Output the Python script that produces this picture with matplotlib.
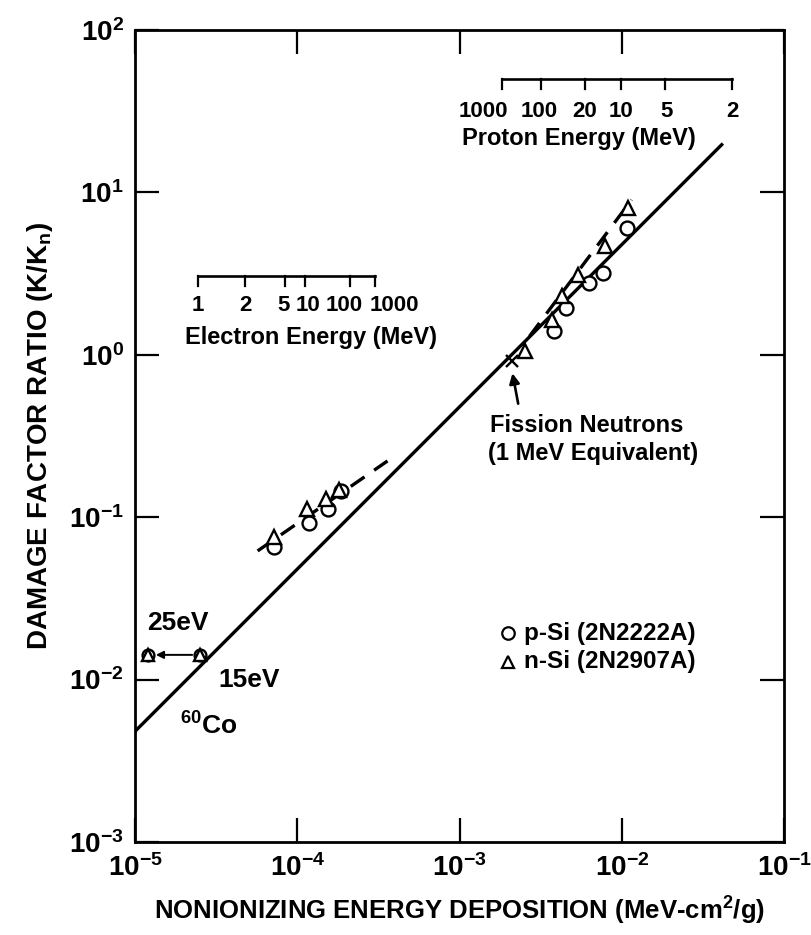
import matplotlib
matplotlib.use('Agg')
import matplotlib.pyplot as plt
from matplotlib.ticker import LogLocator, NullLocator, FuncFormatter
import math

plt.rcParams['font.family'] = ['Liberation Sans', 'DejaVu Sans']
plt.rcParams['font.weight'] = 'bold'
plt.rcParams['axes.labelweight'] = 'bold'
plt.rcParams['mathtext.fontset'] = 'custom'
plt.rcParams['mathtext.rm'] = 'Liberation Sans:bold'
plt.rcParams['mathtext.it'] = 'Liberation Sans:bold:italic'
plt.rcParams['mathtext.bf'] = 'Liberation Sans:bold'

# ---- data ----
fit_x = [1e-5, 4.2e-2]
fit_y = [4.8e-3, 20.0]
dash_e_x = [5.7e-5, 3.6e-4]
dash_e_y = [0.062, 0.222]
dash_p_x = [2.7e-3, 1.15e-2]
dash_p_y = [1.3, 9.0]

co_x = [1.2e-5, 2.5e-5]
co_y = [0.0142, 0.0142]

psi_e_x = [7.2e-5, 1.18e-4, 1.55e-4, 1.85e-4]
psi_e_y = [0.066, 0.092, 0.113, 0.145]
nsi_e_x = [7.2e-5, 1.15e-4, 1.50e-4, 1.82e-4]
nsi_e_y = [0.076, 0.112, 0.130, 0.148]

psi_p_x = [3.8e-3, 4.55e-3, 6.3e-3, 7.7e-3, 1.07e-2]
psi_p_y = [1.41, 1.95, 2.78, 3.2, 6.0]
nsi_p_x = [2.55e-3, 3.7e-3, 4.3e-3, 5.35e-3, 7.85e-3, 1.09e-2]
nsi_p_y = [1.06, 1.64, 2.3, 3.1, 4.7, 8.0]

fission_x = [2.1e-3]
fission_y = [0.92]

electron_energy = ['1', '2', '5', '10', '100', '1000']
electron_niel = [2.45e-5, 4.78e-5, 8.43e-5, 1.12e-4, 2.12e-4, 3.03e-4]
electron_label_shift = [0, 0, -1, 2, -4, 14]
proton_energy = ['1000', '100', '20', '10', '5', '2']
proton_niel = [1.84e-3, 3.16e-3, 5.9e-3, 9.9e-3, 1.84e-2, 4.8e-2]
proton_label_shift = [-14, -1, 0, 0, 1, 0]

legend_labels = ['p-Si (2N2222A)', 'n-Si (2N2907A)']

# ---- figure ----
W, H = 812, 935
fig = plt.figure(figsize=(W / 100, H / 100), dpi=100)
L, R, T, B = 135, 784, 30, 842
ax = fig.add_axes([L / W, 1 - B / H, (R - L) / W, (B - T) / H])
ax.set_xscale('log')
ax.set_yscale('log')
ax.set_xlim(1e-5, 1e-1)
ax.set_ylim(1e-3, 1e2)

lw = 2.4
ms = 10
mew = 1.7

ax.plot(fit_x, fit_y, color='k', lw=lw, solid_capstyle='butt')
ax.plot(dash_e_x, dash_e_y, color='k', lw=lw, dashes=(5, 3.5))
ax.plot(dash_p_x, dash_p_y, color='k', lw=lw, dashes=(5, 3.5))

ax.plot(psi_e_x, psi_e_y, 'o', ms=ms, mfc='white', mec='k', mew=mew, ls='none')
ax.plot(nsi_e_x, nsi_e_y, '^', ms=ms, mfc='white', mec='k', mew=mew, ls='none')
ax.plot(psi_p_x, psi_p_y, 'o', ms=ms, mfc='white', mec='k', mew=mew, ls='none')
ax.plot(nsi_p_x, nsi_p_y, '^', ms=ms, mfc='white', mec='k', mew=mew, ls='none')

# 60Co points with arrow
ax.plot(co_x, co_y, 'o', ms=ms * 0.85, mfc='white', mec='k', mew=mew, ls='none')
ax.plot(co_x, co_y, '^', ms=ms * 0.85, mfc='white', mec='k', mew=mew, ls='none')
ax.annotate('', xy=(co_x[0] * 1.12, co_y[0]), xytext=(co_x[1] * 0.9, co_y[1]),
            arrowprops=dict(arrowstyle='-|>', color='k', lw=1.4,
                            mutation_scale=11, shrinkA=0, shrinkB=0))

# fission neutron point
ax.plot(fission_x, fission_y, 'x', ms=9, mec='k', mew=1.7, ls='none')
ax.annotate('', xy=(2.12e-3, 0.77), xytext=(2.3e-3, 0.50),
            arrowprops=dict(arrowstyle='-|>', color='k', lw=1.9,
                            mutation_scale=15, shrinkA=0, shrinkB=0))

fs_tick = 20
fs_txt = 17
fs_scale = 16

# spines and ticks
for s in ax.spines.values():
    s.set_linewidth(2.0)
ax.xaxis.set_major_locator(LogLocator(base=10, numticks=10))
ax.yaxis.set_major_locator(LogLocator(base=10, numticks=10))
ax.xaxis.set_minor_locator(NullLocator())
ax.yaxis.set_minor_locator(NullLocator())
fmt = FuncFormatter(lambda v, p: r'$10^{%d}$' % int(round(math.log10(v))))
ax.xaxis.set_major_formatter(fmt)
ax.yaxis.set_major_formatter(fmt)
ax.tick_params(which='major', direction='in', length=17, width=1.6,
               top=True, right=True, labelsize=fs_tick)
ax.tick_params(axis='x', pad=9)
ax.tick_params(axis='y', pad=8)

ax.set_xlabel('NONIONIZING ENERGY DEPOSITION (MeV-cm$^2$/g)', fontsize=18.5,
              fontweight='bold', labelpad=9)
ax.set_ylabel(r'DAMAGE FACTOR RATIO (K/K$_{\mathrm{n}}$)', fontsize=20,
              fontweight='bold', labelpad=10)

# electron energy scale
xt = ax.get_xaxis_transform()
ey = 0.697
ax.plot([electron_niel[0], electron_niel[-1]], [ey, ey], color='k', lw=1.9, transform=xt)
for x, lab, sh in zip(electron_niel, electron_energy, electron_label_shift):
    ax.plot([x, x], [ey, ey - 0.012], color='k', lw=1.6, transform=xt)
    ax.annotate(lab, xy=(x, ey - 0.036), xycoords=xt, xytext=(sh, 0),
                textcoords='offset points', ha='center', va='center', fontsize=fs_scale)
ax.text(0.077, 0.621, 'Electron Energy (MeV)', transform=ax.transAxes,
        ha='left', va='center', fontsize=fs_txt)

# proton energy scale
py = 0.940
ax.plot([proton_niel[0], proton_niel[-1]], [py, py], color='k', lw=1.9, transform=xt)
for x, lab, sh in zip(proton_niel, proton_energy, proton_label_shift):
    ax.plot([x, x], [py, py - 0.013], color='k', lw=1.6, transform=xt)
    ax.annotate(lab, xy=(x, py - 0.040), xycoords=xt, xytext=(sh, 0),
                textcoords='offset points', ha='center', va='center', fontsize=fs_scale)
ax.text(0.504, 0.866, 'Proton Energy (MeV)', transform=ax.transAxes,
        ha='left', va='center', fontsize=fs_txt)

# annotations
ax.text(1.19e-5, 0.0223, '25eV', ha='left', va='center', fontsize=19)
ax.text(3.25e-5, 0.00995, '15eV', ha='left', va='center', fontsize=19)
ax.text(1.9e-5, 0.0052, '$^{60}$Co', ha='left', va='center', fontsize=19)
ax.text(1.55e-3, 0.365, 'Fission Neutrons', ha='left', va='center', fontsize=fs_txt)
ax.text(1.5e-3, 0.248, '(1 MeV Equivalent)', ha='left', va='center', fontsize=fs_txt)

# legend
leg_y = [0.257, 0.222]
leg_mx = 0.575
ax.plot([leg_mx], [leg_y[0]], 'o', ms=9, mfc='white', mec='k', mew=1.6, transform=ax.transAxes)
ax.plot([leg_mx], [leg_y[1]], '^', ms=9, mfc='white', mec='k', mew=1.6, transform=ax.transAxes)
for yy, lab in zip(leg_y, legend_labels):
    ax.text(leg_mx + 0.025, yy, lab, transform=ax.transAxes, ha='left', va='center', fontsize=17.5)

fig.savefig('out.png', dpi=100)
